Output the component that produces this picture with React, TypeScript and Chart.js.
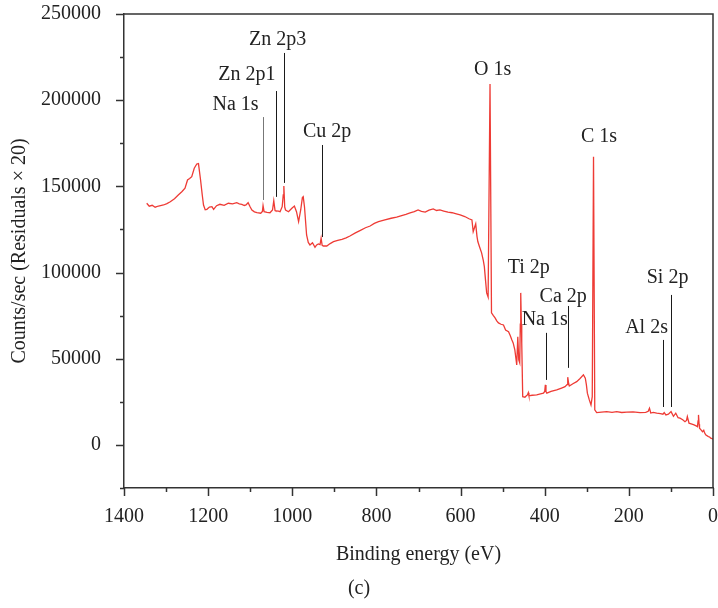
import { useEffect, useRef } from 'react';
import { Chart, registerables } from 'chart.js';

Chart.register(...registerables);

// Binding energy (eV) of each traced point, descending
const energies = [
  1346, 1340, 1333, 1326, 1318, 1306, 1298, 1290, 1280, 1271, 1262, 1255, 1249, 1244, 1239, 1233,
  1227, 1223, 1218, 1214, 1211, 1207, 1203, 1197, 1191, 1187, 1180, 1172, 1162, 1152, 1142, 1132,
  1126, 1120, 1114, 1110, 1105, 1100, 1096, 1090, 1084, 1075, 1071, 1069.5, 1067, 1060, 1053, 1047,
  1044, 1041, 1039, 1033, 1029, 1024, 1021.5, 1020, 1018, 1016, 1009, 1001, 995, 990, 985, 980, 976,
  974, 971, 966, 962, 958, 952, 946, 942, 938, 934, 931.5, 929, 926, 918, 910, 902, 892, 882, 872,
  863, 850, 838, 826, 815, 805, 795, 780, 765, 752, 744, 730, 720, 710, 701, 693, 684, 675, 665, 657,
  649, 640, 630, 620, 610, 601, 590, 580, 573, 570, 567, 564, 561, 559, 555, 550, 546, 543.5, 540.5,
  538, 534.5, 530, 526.5, 522, 518, 514, 510, 504, 498, 493, 486, 482, 478, 475,
  471, 466.5, 464, 461.7, 459.4, 458, 457, 455.5, 454.6, 452.3, 447, 443, 441, 439, 437.5, 430, 419,
  410, 403, 400, 398.5, 397, 395, 385, 371.5, 360, 351.7, 347, 345.3, 343, 341.5, 333, 324, 316, 308,
  303.5, 301, 298.6, 294, 290, 287, 284, 281, 276.5, 265, 252.7, 240, 229,
  217, 205, 190, 173.5, 160, 154, 151, 148, 142, 133.8, 125, 119, 116, 112, 106, 99.7, 94, 88.5, 83,
  78.5, 72, 66.6, 63, 61, 57, 50, 45, 40, 37, 35.5, 34.5, 33, 32, 28, 25, 22, 20, 17.4, 11, 8, 5.4, 2, 0,
];

// Counts/sec at each energy above
const counts = [
  140200, 138500, 139000, 137900, 138600, 139200, 140000, 141100, 142800, 145000, 147000, 148900,
  153700, 154500, 155600, 160500, 163000, 163200, 153700, 145000, 139200, 136500, 136700, 138000,
  138200, 136700, 138800, 139600, 139000, 140200, 139800, 140500, 139900, 139600, 138900, 139200,
  140500, 138000, 136300, 135200, 134700, 134400, 135500, 138800, 135300, 134900, 134700, 136300,
  141700, 136000, 135700, 135600, 135300, 138200, 145000, 150200, 138000, 136300, 135300, 137300,
  138600, 135300, 129500, 136300, 143500, 144000, 138200, 121800, 117500, 116000, 117300, 114700,
  116000, 116600, 116200, 119900, 115800, 115400, 115400, 116800, 117900, 118600, 119300, 120100,
  121200, 123000, 124500, 126000, 127000, 128500, 129500, 130500, 131500, 132200, 132800, 133800,
  134600, 135300, 136300, 135500, 135100, 136200, 136900, 136000, 136300, 135700, 135000, 134700,
  134000, 133400, 132500, 131200, 130500, 123700, 126000, 128200, 121000, 118000, 115000, 111400,
  107000, 103400, 95000, 88200, 85800, 209400, 76600, 75000, 73700,
  72000, 70800, 70000, 69600, 66700, 65700, 63500, 60900, 59200, 55100, 46400, 62800, 49300, 47600,
  70000, 88200, 70000, 59200, 28000, 27700, 28600, 29000, 30300, 28500, 28800, 29000, 29600, 30000,
  31000, 34800, 31000, 30000, 31000, 31900, 33000, 33800, 35000, 39300, 35500, 34200, 35500, 36700,
  38500, 40600, 38700, 35000, 30000, 26100, 23200, 28000, 167200, 20300,
  18700, 19000, 19300, 18900, 19300, 18800, 19000, 19200, 18700, 18900, 19500, 21300, 18500,
  18900, 18400, 18100, 17800, 18700, 17400, 17800, 19300, 16600, 18400, 15800, 15500, 14600, 13500,
  14200, 16400, 12600, 12000, 11600, 11000, 10600, 14000, 17400, 12000, 9700, 8600, 7700, 8500, 7000,
  5800, 4800, 4600, 3900, 3600, 3300,
];

const xTickValues = [1400, 1200, 1000, 800, 600, 400, 200, 0];
const yTickValues = [0, 50000, 100000, 150000, 200000, 250000];

// Peak annotations
const annLabels = ['Na 1s', 'Zn 2p1', 'Zn 2p3', 'Cu 2p', 'O 1s', 'C 1s', 'Ti 2p', 'Ca 2p', 'Na 1s', 'Al 2s', 'Si 2p'];
const annLabelEnergy = [1135, 1108, 1035, 917, 524, 271, 438, 356, 400, 158, 108];
const annLabelCount = [194300, 211700, 232000, 178600, 214600, 175700, 99800, 82900, 69600, 65000, 94000];
const annLineEnergy = [1070, 1039, 1020, 929, null, null, null, 345, 398, 118, 100];
const annLineTop = [190200, 205300, 227400, 174000, null, null, null, 80600, 65000, 60900, 87000];
const annLineBottom = [142100, 143900, 152000, 120600, null, null, null, 44700, 37700, 22000, 22000];

const FONT = '"Liberation Serif", "Times New Roman", serif';
const TEXT = '#222222';
const AXIS = '#333333';

export default function App() {
  const ref = useRef<HTMLCanvasElement>(null);

  useEffect(() => {
    document.body.style.margin = '0';
    const decor = {
      id: 'decor',
      afterDraw(chart: any) {
        const { ctx, chartArea } = chart;
        const xs = chart.scales.x;
        const ys = chart.scales.y;
        const { left, right, top, bottom } = chartArea;
        ctx.save();
        ctx.strokeStyle = AXIS;
        ctx.lineWidth = 1.5;
        // top and right frame
        ctx.beginPath();
        ctx.moveTo(left, top);
        ctx.lineTo(right, top);
        ctx.lineTo(right, bottom);
        ctx.stroke();
        // x ticks
        for (let v = 0; v <= 1400; v += 100) {
          const px = Math.round(xs.getPixelForValue(v)) + 0.5;
          const len = v % 200 === 0 ? 8 : 4;
          ctx.beginPath();
          ctx.moveTo(px, bottom);
          ctx.lineTo(px, bottom + len);
          ctx.stroke();
        }
        // y ticks
        for (let v = -25000; v <= 250000; v += 25000) {
          const py = Math.round(ys.getPixelForValue(v)) + 0.5;
          const len = v % 50000 === 0 ? 8 : 4;
          ctx.beginPath();
          ctx.moveTo(left - len, py);
          ctx.lineTo(left, py);
          ctx.stroke();
        }
        // annotations
        ctx.lineWidth = 1;
        ctx.fillStyle = TEXT;
        ctx.font = `20px ${FONT}`;
        ctx.textAlign = 'center';
        ctx.textBaseline = 'alphabetic';
        annLabels.forEach((label, i) => {
          ctx.fillText(label, xs.getPixelForValue(annLabelEnergy[i]), ys.getPixelForValue(annLabelCount[i]));
          const le = annLineEnergy[i];
          if (le !== null) {
            const px = Math.round(xs.getPixelForValue(le)) + 0.5;
            ctx.strokeStyle = i === 0 ? '#777777' : '#1a1a1a';
            ctx.beginPath();
            ctx.moveTo(px, ys.getPixelForValue(annLineTop[i] as number));
            ctx.lineTo(px, ys.getPixelForValue(annLineBottom[i] as number));
            ctx.stroke();
          }
        });
        // caption
        ctx.textBaseline = 'middle';
        ctx.fillText('(c)', chart.width / 2, 589);
        ctx.restore();
      },
    };

    const chart = new Chart(ref.current as HTMLCanvasElement, {
      type: 'line',
      data: {
        datasets: [
          {
            data: energies.map((e, i) => ({ x: e, y: counts[i] })),
            borderColor: '#ee3b35',
            borderWidth: 1.3,
            pointRadius: 0,
            tension: 0,
            fill: false,
          },
        ],
      },
      options: {
        animation: false,
        responsive: false,
        devicePixelRatio: 1,
        layout: { padding: { top: 14, right: 5, left: 0, bottom: 0 } },
        plugins: { legend: { display: false }, tooltip: { enabled: false } },
        scales: {
          x: {
            type: 'linear',
            reverse: true,
            min: 0,
            max: 1400,
            afterBuildTicks: (s: any) => {
              s.ticks = xTickValues.map((v) => ({ value: v }));
            },
            afterFit: (s: any) => {
              s.height = 120;
              s.paddingLeft = 0;
              s.paddingRight = 0;
              s.paddingTop = 0;
              s.paddingBottom = 0;
            },
            grid: { display: false, drawTicks: false },
            border: { display: true, color: AXIS, width: 1.5 },
            ticks: {
              padding: 17,
              maxRotation: 0,
              autoSkip: false,
              color: TEXT,
              font: { family: FONT, size: 20 },
              callback: (v: any) => String(v),
            },
            title: {
              display: true,
              text: 'Binding energy (eV)',
              color: TEXT,
              font: { family: FONT, size: 20 },
              padding: { top: 0, bottom: 41 },
            },
          },
          y: {
            type: 'linear',
            min: -25000,
            max: 250000,
            afterBuildTicks: (s: any) => {
              s.ticks = yTickValues.map((v) => ({ value: v }));
            },
            afterFit: (s: any) => {
              s.width = 124;
              s.paddingLeft = 0;
              s.paddingRight = 0;
              s.paddingTop = 0;
              s.paddingBottom = 0;
            },
            grid: { display: false, drawTicks: false },
            border: { display: true, color: AXIS, width: 1.5 },
            ticks: {
              padding: 23,
              color: TEXT,
              font: { family: FONT, size: 20 },
              callback: (v: any) => String(v),
            },
            title: {
              display: true,
              text: 'Counts/sec (Residuals × 20)',
              color: TEXT,
              font: { family: FONT, size: 20 },
              padding: { top: 8, bottom: 0 },
            },
          },
        },
      },
      plugins: [decor],
    });
    return () => chart.destroy();
  }, []);

  return <canvas ref={ref} width={718} height={608} style={{ display: 'block' }} />;
}
